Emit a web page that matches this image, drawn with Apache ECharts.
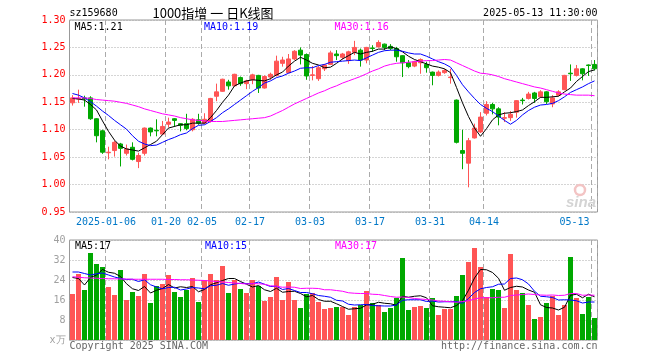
<!DOCTYPE html>
<html><head><meta charset="utf-8">
<script src="https://cdn.jsdelivr.net/npm/echarts@6/dist/echarts.min.js"></script>
<style>html,body{margin:0;padding:0;background:#fff}#c{width:660px;height:360px}</style>
</head><body><div id="c"></div>
<script>
const dates = ['2024-12-26','2024-12-27','2024-12-30','2024-12-31','2025-01-02','2025-01-03','2025-01-06','2025-01-07','2025-01-08','2025-01-09',
'2025-01-10','2025-01-13','2025-01-14','2025-01-15','2025-01-16','2025-01-17','2025-01-20','2025-01-21','2025-01-22','2025-01-23',
'2025-01-24','2025-01-27','2025-02-05','2025-02-06','2025-02-07','2025-02-10','2025-02-11','2025-02-12','2025-02-13','2025-02-14',
'2025-02-17','2025-02-18','2025-02-19','2025-02-20','2025-02-21','2025-02-24','2025-02-25','2025-02-26','2025-02-27','2025-02-28',
'2025-03-03','2025-03-04','2025-03-05','2025-03-06','2025-03-07','2025-03-10','2025-03-11','2025-03-12','2025-03-13','2025-03-14',
'2025-03-17','2025-03-18','2025-03-19','2025-03-20','2025-03-21','2025-03-24','2025-03-25','2025-03-26','2025-03-27','2025-03-28',
'2025-03-31','2025-04-01','2025-04-02','2025-04-03','2025-04-07','2025-04-08','2025-04-09','2025-04-10','2025-04-11','2025-04-14',
'2025-04-15','2025-04-16','2025-04-17','2025-04-18','2025-04-21','2025-04-22','2025-04-23','2025-04-24','2025-04-25','2025-04-28',
'2025-04-29','2025-04-30','2025-05-06','2025-05-07','2025-05-08','2025-05-09','2025-05-12','2025-05-13'];

const opens = [1.149,1.156,1.158,1.158,1.120,1.098,1.058,1.062,1.074,1.057,
1.068,1.042,1.057,1.103,1.099,1.092,1.110,1.120,1.111,1.111,
1.100,1.118,1.112,1.115,1.161,1.170,1.187,1.180,1.195,1.184,
1.191,1.199,1.176,1.196,1.199,1.221,1.204,1.229,1.245,1.237,
1.199,1.193,1.211,1.219,1.238,1.232,1.226,1.241,1.245,1.227,
1.249,1.251,1.256,1.252,1.248,1.235,1.222,1.216,1.222,1.219,
1.205,1.199,1.204,1.195,1.154,1.062,1.039,1.085,1.096,1.130,
1.146,1.138,1.121,1.122,1.132,1.154,1.157,1.167,1.160,1.169,
1.147,1.163,1.173,1.203,1.199,1.211,1.218,1.219];

const closes = [1.158,1.157,1.156,1.120,1.089,1.059,1.059,1.077,1.066,1.065,
1.046,1.053,1.103,1.096,1.098,1.106,1.114,1.117,1.108,1.102,
1.119,1.112,1.119,1.157,1.169,1.192,1.180,1.201,1.184,1.189,
1.200,1.176,1.197,1.201,1.225,1.227,1.229,1.243,1.236,1.198,
1.200,1.213,1.218,1.240,1.235,1.238,1.242,1.250,1.227,1.250,
1.248,1.259,1.250,1.248,1.233,1.222,1.215,1.224,1.228,1.213,
1.199,1.205,1.208,1.196,1.077,1.057,1.080,1.103,1.123,1.146,
1.138,1.123,1.122,1.128,1.153,1.153,1.165,1.157,1.169,1.151,
1.158,1.169,1.199,1.202,1.211,1.202,1.217,1.211];

const lows = [1.144,1.149,1.142,1.118,1.077,1.056,1.046,1.051,1.033,1.053,
1.044,1.030,1.053,1.088,1.088,1.091,1.104,1.105,1.097,1.099,
1.097,1.109,1.110,1.113,1.152,1.169,1.173,1.179,1.180,1.174,
1.183,1.167,1.175,1.191,1.197,1.215,1.203,1.227,1.219,1.191,
1.190,1.189,1.207,1.218,1.227,1.228,1.220,1.236,1.215,1.221,
1.242,1.250,1.245,1.245,1.224,1.196,1.212,1.214,1.202,1.204,
1.181,1.197,1.202,1.184,1.075,1.028,0.995,1.084,1.094,1.126,
1.128,1.108,1.114,1.116,1.122,1.146,1.155,1.149,1.158,1.147,
1.141,1.161,1.172,1.189,1.197,1.190,1.198,1.208];

const highs = [1.163,1.173,1.162,1.161,1.121,1.100,1.069,1.080,1.076,1.073,
1.077,1.058,1.104,1.104,1.119,1.116,1.122,1.121,1.112,1.129,
1.121,1.129,1.130,1.158,1.184,1.193,1.191,1.202,1.197,1.191,
1.202,1.200,1.199,1.204,1.235,1.233,1.238,1.245,1.250,1.239,
1.216,1.216,1.220,1.244,1.245,1.240,1.244,1.262,1.248,1.251,
1.254,1.263,1.257,1.256,1.251,1.236,1.227,1.226,1.230,1.224,
1.206,1.208,1.211,1.211,1.155,1.100,1.085,1.111,1.132,1.152,
1.149,1.141,1.132,1.134,1.154,1.158,1.169,1.169,1.172,1.170,
1.163,1.172,1.200,1.219,1.218,1.212,1.219,1.227];

const ma5 = [1.157,1.156,1.154,1.146,1.136,1.116,1.097,1.081,1.070,1.065,
1.063,1.061,1.067,1.073,1.079,1.091,1.103,1.106,1.109,1.109,
1.112,1.112,1.112,1.122,1.135,1.150,1.163,1.180,1.185,1.189,
1.191,1.190,1.189,1.193,1.200,1.205,1.216,1.225,1.232,1.227,
1.221,1.218,1.213,1.214,1.221,1.229,1.235,1.241,1.238,1.241,
1.243,1.247,1.247,1.251,1.248,1.242,1.234,1.228,1.224,1.220,
1.216,1.214,1.211,1.204,1.177,1.149,1.124,1.103,1.088,1.102,
1.118,1.127,1.130,1.131,1.133,1.136,1.144,1.151,1.159,1.159,
1.160,1.161,1.169,1.176,1.188,1.197,1.206,1.209];

const ma10 = [1.166,1.163,1.158,1.151,1.143,1.134,1.126,1.117,1.109,1.101,
1.089,1.079,1.074,1.071,1.072,1.077,1.082,1.086,1.091,1.094,
1.102,1.108,1.109,1.115,1.122,1.131,1.138,1.146,1.154,1.162,
1.170,1.177,1.185,1.189,1.195,1.198,1.203,1.207,1.212,1.213,
1.213,1.217,1.219,1.223,1.224,1.225,1.226,1.227,1.226,1.231,
1.236,1.241,1.244,1.245,1.245,1.243,1.240,1.238,1.238,1.234,
1.229,1.224,1.220,1.214,1.199,1.182,1.169,1.157,1.146,1.139,
1.133,1.125,1.117,1.110,1.117,1.127,1.135,1.141,1.145,1.146,
1.148,1.153,1.160,1.168,1.173,1.178,1.184,1.189];

const ma30 = [1.158,1.158,1.158,1.157,1.155,1.154,1.153,1.152,1.150,1.148,
1.145,1.142,1.138,1.135,1.132,1.129,1.127,1.125,1.122,1.120,
1.118,1.117,1.116,1.115,1.115,1.115,1.116,1.117,1.118,1.119,
1.120,1.121,1.122,1.125,1.130,1.135,1.141,1.147,1.152,1.157,
1.162,1.167,1.171,1.176,1.180,1.185,1.189,1.193,1.197,1.202,
1.207,1.211,1.216,1.219,1.221,1.222,1.223,1.224,1.225,1.226,
1.226,1.227,1.228,1.227,1.222,1.217,1.212,1.207,1.203,1.202,
1.200,1.197,1.193,1.190,1.187,1.184,1.181,1.178,1.176,1.173,
1.170,1.167,1.165,1.164,1.163,1.163,1.163,1.162];

const volumes = [18.4,26.4,20.0,34.8,30.4,29.2,21.2,18.0,28.0,16.0,
19.2,17.6,26.4,14.8,21.6,22.4,26.0,19.2,17.2,20.0,
24.8,15.2,24.0,26.4,24.0,29.6,18.8,24.0,20.4,18.8,
24.0,21.6,15.6,17.2,25.2,16.0,23.2,16.0,12.8,18.4,
18.8,15.2,12.4,12.8,13.2,13.2,10.0,13.2,14.0,19.6,
14.8,14.0,11.2,12.8,16.8,32.8,12.0,13.2,13.6,12.8,
16.8,10.0,12.4,12.4,17.6,26.0,31.2,36.8,29.2,17.2,
20.4,20.0,12.8,34.4,20.0,18.8,14.0,8.4,9.2,14.8,
17.6,10.0,14.0,33.2,16.8,10.4,17.2,8.8];

const vma5 = [25.0,24.6,22.0,25.0,26.0,28.2,27.1,26.7,25.4,22.5,
20.5,19.8,21.4,18.8,19.9,20.6,22.2,20.8,21.3,21.0,
21.4,19.3,20.2,22.1,22.9,23.8,24.6,24.6,23.4,22.3,
21.2,21.8,20.1,19.4,20.7,19.1,19.4,19.5,18.6,17.3,
17.8,16.2,15.5,15.5,14.5,13.4,12.3,12.5,12.7,14.0,
14.3,15.1,14.7,14.5,13.9,17.5,17.1,17.5,17.7,16.9,
13.7,13.3,13.1,12.9,13.8,15.7,19.9,24.8,28.2,28.1,
27.0,24.7,19.9,21.0,21.5,21.2,20.0,19.1,14.1,13.0,
12.8,12.0,13.1,17.9,18.3,16.9,18.3,17.3];

const vma10 = [27.2,27.2,26.6,26.0,26.5,26.8,26.0,25.2,24.6,24.2,
24.3,23.4,24.1,22.1,21.2,20.5,21.0,21.1,20.0,20.4,
21.0,20.8,20.5,21.7,21.9,22.6,21.9,22.4,22.7,22.6,
22.5,23.2,22.3,21.4,21.5,20.2,20.6,19.8,19.0,19.0,
18.5,17.8,17.5,17.1,15.9,15.6,14.3,14.0,14.1,14.2,
13.8,13.7,13.6,13.6,14.0,15.9,16.1,16.1,16.1,15.4,
15.6,15.2,15.3,15.3,15.4,14.7,16.6,19.0,20.5,21.0,
21.3,22.3,22.4,24.6,24.8,24.1,22.4,19.5,17.5,17.3,
17.0,16.0,16.1,16.0,15.7,14.8,15.2,15.2];

const vma30 = [25.3,25.1,24.9,24.8,24.7,24.6,24.5,24.5,24.4,24.4,
24.3,24.3,24.3,24.3,24.3,24.3,24.2,24.2,24.1,24.1,
24.0,23.9,23.8,23.6,23.4,23.2,23.0,22.8,22.6,22.4,
22.6,22.5,22.3,21.7,21.5,21.1,21.2,21.1,20.6,20.7,
20.7,20.6,20.1,20.1,19.8,19.5,18.9,18.7,18.6,18.6,
18.3,18.2,17.8,17.4,17.1,17.2,17.0,16.6,16.4,16.2,
16.0,15.6,15.5,15.3,15.1,15.4,15.7,16.4,16.9,16.9,
16.9,17.1,17.1,17.8,18.0,18.2,18.4,18.2,18.0,17.9,
18.0,17.8,17.9,18.6,18.6,17.9,18.0,17.9];

const tickDates = ['2025-01-06','2025-01-20','2025-02-05','2025-02-17','2025-03-03','2025-03-17','2025-03-31','2025-04-14','2025-05-13'];
const tickLabels = ['2025-01-06','01-20','02-05','02-17','03-03','03-17','03-31','04-14','05-13'];

const headerCode = 'sz159680';
const headerTitle = '1000指增 一 日K线图';
const headerTime = '2025-05-13 11:30:00';
const priceMaLabels = ['MA5:1.21','MA10:1.19','MA30:1.16'];
const volMaLabels = ['MA5:17','MA10:15','MA30:17'];

const RED = '#ff5555', GREEN = '#00a800';
const MONO = '"DejaVu Sans Mono", "Liberation Mono", monospace';
const CJK = '"Noto Sans CJK SC", sans-serif';

const candleData = dates.map((d, i) => [opens[i], closes[i], lows[i], highs[i]]);
const volData = volumes.map((v, i) => ({ value: v, itemStyle: { color: closes[i] >= opens[i] ? RED : GREEN } }));
const tickSet = new Set(tickDates);
const labelMap = {};
tickDates.forEach((d, k) => { labelMap[d] = tickLabels[k]; });

const chart = echarts.init(document.getElementById('c'), null, { renderer: 'canvas' });

function lineSeries(name, data, color, xi, yi) {
  return { name, type: 'line', data, xAxisIndex: xi, yAxisIndex: yi, showSymbol: false, symbol: 'none',
    lineStyle: { color, width: 1 }, itemStyle: { color }, z: 5, silent: true };
}

const vSplit = { show: true, interval: (i, v) => tickSet.has(v), lineStyle: { color: '#aaaaaa', width: 1, type: [5, 3] } };
const hSplit = { show: true, lineStyle: { color: '#aaaaaa', width: 1, type: [1, 2] } };

function txt(x, y, text, color, align, font, size) {
  return { type: 'text', x, y, silent: true, z: 10,
    style: { text, fill: color, font: size + 'px ' + font, textAlign: align || 'left', textVerticalAlign: 'middle' } };
}

chart.setOption({
  animation: false,
  backgroundColor: '#ffffff',
  grid: [
    { left: 69.5, top: 20, width: 528, height: 192, show: true, borderColor: '#999999', borderWidth: 1, backgroundColor: 'transparent' },
    { left: 69.5, top: 240, width: 528, height: 100, show: true, borderColor: '#999999', borderWidth: 1, backgroundColor: 'transparent' }
  ],
  xAxis: [
    { type: 'category', gridIndex: 0, data: dates, boundaryGap: true,
      axisLine: { show: false }, axisTick: { show: false },
      axisLabel: { show: true, interval: (i, v) => tickSet.has(v), formatter: v => labelMap[v] || '',
        color: '#0078c8', fontFamily: MONO, fontSize: 10, margin: 5, padding: [0, 5, 0, 0],
        alignMaxLabel: 'right', hideOverlap: false },
      splitLine: vSplit },
    { type: 'category', gridIndex: 1, data: dates, boundaryGap: true,
      axisLine: { show: false }, axisTick: { show: false }, axisLabel: { show: false },
      splitLine: vSplit }
  ],
  yAxis: [
    { type: 'value', gridIndex: 0, min: 0.95, max: 1.30, interval: 0.05, scale: true,
      axisLine: { show: false }, axisTick: { show: false },
      axisLabel: { color: '#ff0000', fontFamily: MONO, fontSize: 10, margin: 4, formatter: v => v.toFixed(2) },
      splitLine: hSplit },
    { type: 'value', gridIndex: 1, min: 0, max: 40, interval: 8,
      axisLine: { show: false }, axisTick: { show: false },
      axisLabel: { color: '#a0a0a0', fontFamily: MONO, fontSize: 10, margin: 4, formatter: v => v === 0 ? 'x万' : String(v) },
      splitLine: hSplit }
  ],
  series: [
    { name: 'K', type: 'candlestick', xAxisIndex: 0, yAxisIndex: 0, data: candleData, barWidth: 4,
      itemStyle: { color: RED, color0: GREEN, borderColor: RED, borderColor0: GREEN, borderWidth: 1 }, z: 3, silent: true },
    lineSeries('MA5', ma5, '#000000', 0, 0),
    lineSeries('MA10', ma10, '#0000ff', 0, 0),
    lineSeries('MA30', ma30, '#ff00ff', 0, 0),
    { name: 'VOL', type: 'bar', xAxisIndex: 1, yAxisIndex: 1, data: volData, barWidth: 5, z: 3, silent: true },
    lineSeries('VMA5', vma5, '#000000', 1, 1),
    lineSeries('VMA10', vma10, '#0000ff', 1, 1),
    lineSeries('VMA30', vma30, '#ff00ff', 1, 1)
  ],
  graphic: [
    txt(69.5, 13, headerCode, '#000000', 'left', MONO, 10),
    txt(213, 13, headerTitle, '#000000', 'center', CJK, 13),
    txt(597.5, 13, headerTime, '#000000', 'right', MONO, 10),
    txt(74.5, 27, priceMaLabels[0], '#000000', 'left', MONO, 10),
    txt(204, 27, priceMaLabels[1], '#0000ff', 'left', MONO, 10),
    txt(334.5, 27, priceMaLabels[2], '#ff00ff', 'left', MONO, 10),
    txt(75, 246.5, volMaLabels[0], '#000000', 'left', MONO, 10),
    txt(205, 246.5, volMaLabels[1], '#0000ff', 'left', MONO, 10),
    txt(335, 246.5, volMaLabels[2], '#ff00ff', 'left', MONO, 10),
    txt(69.5, 346, 'Copyright 2025 SINA.COM', '#666666', 'left', MONO, 10),
    txt(597.5, 346, 'http://finance.sina.com.cn', '#666666', 'right', MONO, 10),
    { type: 'circle', shape: { cx: 580, cy: 190, r: 5 }, silent: true, z: 1,
      style: { fill: 'none', stroke: '#f3c4c4', lineWidth: 2.5 } },
    { type: 'text', x: 581, y: 203, silent: true, z: 1,
      style: { text: 'sina', fill: '#d4d4d4', font: 'italic bold 15px "Liberation Sans", sans-serif', textAlign: 'center', textVerticalAlign: 'middle' } }
  ]
});
</script></body></html>
